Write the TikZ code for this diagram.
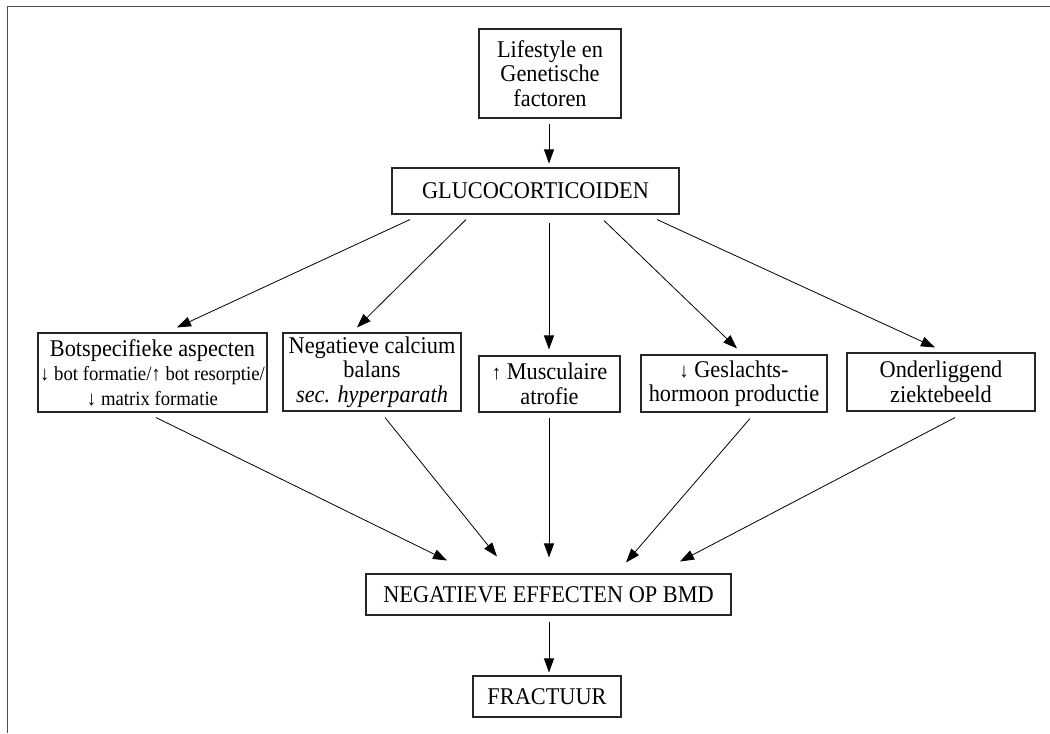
\documentclass[tikz,border=0pt]{standalone}
\usepackage{fontspec}
\setmainfont{Liberation Serif}[FakeStretch=0.93]
\usetikzlibrary{arrows.meta,calc}
\newcommand{\smf}{\fontsize{15.1}{18.4}\selectfont}
\begin{document}
\begin{tikzpicture}[x=0.75pt,y=-0.75pt,
  box/.style={draw=black!85, line width=0.8pt, inner sep=0pt, align=center,
    font=\fontsize{18}{18.4}\selectfont},
  arr/.style={line width=0.6pt, -{Triangle[length=10.5pt,width=7.5pt]}}]
\fill[white] (0,0) rectangle (1050,733);
\useasboundingbox (0,0) rectangle (1050,733);
\draw[line width=0.7pt, black!70] (7,733) -- (7,6) -- (1050,6);

\node[box, minimum width=106.5pt, minimum height=66.75pt] (life) at (550,73.5)
  {Lifestyle en\\Genetische\\factoren};
\node[box, minimum width=215.25pt, minimum height=34.5pt] (gluco) at (535.5,191)
  {GLUCOCORTICOIDEN};
\node[box, minimum width=171.75pt, minimum height=59.25pt] (bot) at (152.5,372.5)
  {Botspecifieke aspecten\\\smf ↓ bot formatie/↑ bot resorptie/\\\smf ↓ matrix formatie};
\node[box, minimum width=133.5pt, minimum height=58.5pt] (cal) at (372,372)
  {Negatieve calcium\\balans\\\textit{sec. hyperparath}};
\node[box, minimum width=105.75pt, minimum height=42pt] (mus) at (549.5,384)
  {{\smf↑} Musculaire\\atrofie};
\node[box, minimum width=139.5pt, minimum height=42.75pt] (ges) at (734,383.5)
  {{\smf↓} Geslachts-\\hormoon productie};
\node[box, minimum width=141pt, minimum height=43.5pt] (ond) at (941,382)
  {Onderliggend\\ziektebeeld};
\node[box, minimum width=273.75pt, minimum height=30.75pt] (neg) at (548.5,594.5)
  {NEGATIEVE EFFECTEN OP BMD};
\node[box, minimum width=111pt, minimum height=30.75pt] (frac) at (547,696.5)
  {FRACTUUR};

\draw[arr] ($(life.south)+(-1,5)$) -- ($(gluco.north)+(13.5,-4)$);

\draw[arr] ($(gluco.south)+(-125.5,5)$) -- ($(bot.north)+(24.5,-5)$);
\draw[arr] ($(gluco.south)+(-69.5,5)$) -- ($(cal.north)+(-15,-5)$);
\draw[arr] ($(gluco.south)+(13.5,8)$) -- ($(mus.north)+(-0.5,-6)$);
\draw[arr] ($(gluco.south)+(68.5,6)$) -- ($(ges.north)+(3,-6)$);
\draw[arr] ($(gluco.south)+(121.5,5)$) -- ($(ond.north)+(-6,-5)$);

\draw[arr] ($(bot.south)+(3.5,5)$) -- ($(neg.north)+(-101.5,-13)$);
\draw[arr] ($(cal.south)+(13,6)$) -- ($(neg.north)+(-51.5,-17)$);
\draw[arr] ($(mus.south)+(-0.5,5)$) -- ($(neg.north)+(0.5,-16)$);
\draw[arr] ($(ges.south)+(16,6)$) -- ($(neg.north)+(77.5,-11)$);
\draw[arr] ($(ond.south)+(14,6)$) -- ($(neg.north)+(131.5,-12)$);

\draw[arr] ($(neg.south)+(0.5,6)$) -- ($(frac.north)+(2,-3)$);
\end{tikzpicture}
\end{document}
